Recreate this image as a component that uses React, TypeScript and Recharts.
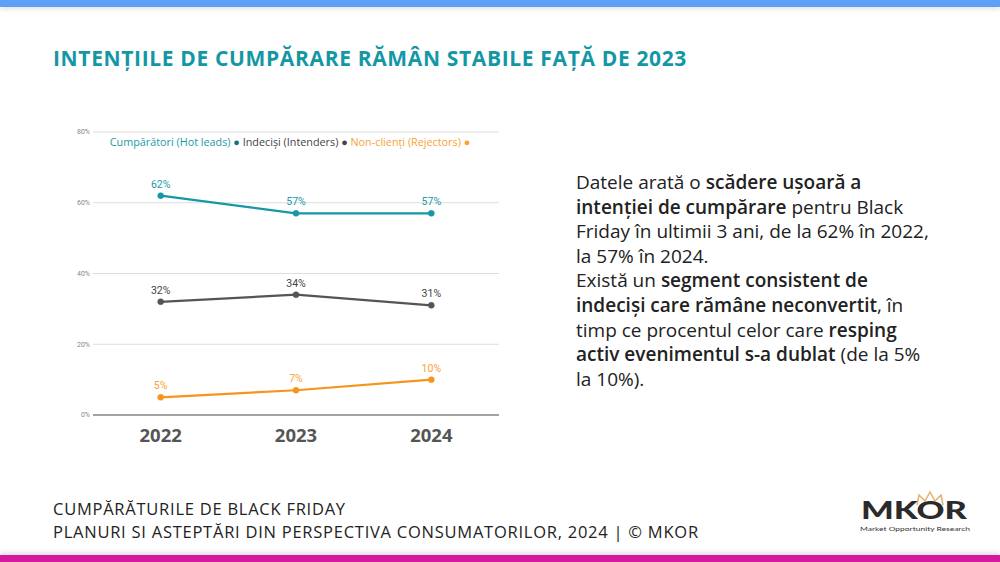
import React from "react";
import {
  LineChart,
  Line,
  XAxis,
  YAxis,
  CartesianGrid,
  Legend,
  LabelList,
} from "recharts";

const years = ["2022", "2023", "2024"];
const hotLeads = [62, 57, 57];
const intenders = [32, 34, 31];
const rejectors = [5, 7, 10];
const yTicks = [0, 20, 40, 60, 80];

const TEAL = "#1597a6";
const GRAY = "#555555";
const ORANGE = "#f7941d";
const SANS = "'Open Sans', sans-serif";

const series = [
  { key: "hot", name: "Cumpărători (Hot leads)", color: TEAL, text: "#1a9aa8" },
  { key: "int", name: "Indeciși (Intenders)", color: GRAY, text: "#444444" },
  { key: "rej", name: "Non-clienți (Rejectors)", color: ORANGE, text: "#f9a234" },
];

const data = years.map((year, i) => ({
  year,
  hot: hotLeads[i],
  int: intenders[i],
  rej: rejectors[i],
}));

function ChartLegend() {
  return (
    <div
      style={{
        fontFamily: SANS,
        fontSize: 10.8,
        textAlign: "center",
        whiteSpace: "nowrap",
      }}
    >
      {series.map((s, i) => (
        <span key={s.key} style={{ color: s.text }}>
          {s.name}
          <span style={{ color: i === 0 ? "#14707a" : s.text }}> ● </span>
        </span>
      ))}
    </div>
  );
}

function TrendChart() {
  return (
    <LineChart
      width={450}
      height={340}
      data={data}
      margin={{ top: 12, right: 11, bottom: 0, left: 0 }}
    >
      <CartesianGrid vertical={false} stroke="#dddddd" />
      <XAxis
        dataKey="year"
        scale="band"
        height={45}
        axisLine={{ stroke: "#8a8a8a", strokeWidth: 1.5 }}
        tickLine={false}
        tickMargin={8}
        tick={{ fontSize: 18.5, fontWeight: 700, fill: "#555555", fontFamily: SANS }}
      />
      <YAxis
        width={33}
        domain={[0, 80]}
        ticks={yTicks}
        axisLine={false}
        tickLine={false}
        tickSize={0}
        tickMargin={3}
        tickFormatter={(v) => `${v}%`}
        tick={{ fontSize: 7, fill: "#888888", fontFamily: "Roboto, sans-serif" }}
      />
      <Legend
        verticalAlign="middle"
        align="center"
        content={() => <ChartLegend />}
        wrapperStyle={{ top: 14, left: 27, width: 406 }}
      />
      {series.map((s) => (
        <Line
          key={s.key}
          dataKey={s.key}
          name={s.name}
          stroke={s.color}
          strokeWidth={2.2}
          dot={{ r: 3, fill: s.color, stroke: s.color, strokeWidth: 0.5 }}
          activeDot={false}
          isAnimationActive={false}
        >
          <LabelList
            dataKey={s.key}
            position="top"
            offset={8}
            formatter={(v: number) => `${v}%`}
            style={{ fontSize: 10.5, fill: s.text, fontFamily: "Roboto, sans-serif" }}
          />
        </Line>
      ))}
    </LineChart>
  );
}

const B = ({ children }: { children: React.ReactNode }) => (
  <span style={{ fontWeight: 600 }}>{children}</span>
);

function Logo() {
  return (
    <svg
      width={122}
      height={50}
      style={{ position: "absolute", left: 855, top: 488 }}
    >
      <polyline
        points="62,17 64,7 70,13 75,4 80,13 86,7 88,17"
        fill="none"
        stroke="#e2b36a"
        strokeWidth={1.5}
      />
      <text
        x={6}
        y={31}
        textLength={106}
        lengthAdjust="spacingAndGlyphs"
        fontFamily="Lato, sans-serif"
        fontWeight={900}
        fontSize={25}
        fill="#2b2b2b"
      >
        MKOR
      </text>
      <text
        x={5}
        y={43}
        textLength={110}
        lengthAdjust="spacingAndGlyphs"
        fontFamily="Lato, sans-serif"
        fontSize={6}
        fill="#333333"
      >
        Market Opportunity Research
      </text>
    </svg>
  );
}

export default function App() {
  return (
    <div
      style={{
        position: "fixed",
        left: 0,
        top: 0,
        width: 1000,
        height: 562,
        background: "#ffffff",
        overflow: "hidden",
        fontFamily: SANS,
      }}
    >
      <div
        style={{
          position: "absolute",
          left: 0,
          top: 0,
          width: 1000,
          height: 7,
          background: "#5f9ff5",
          boxShadow: "0 2px 5px rgba(0,0,0,0.12)",
        }}
      />
      <div
        style={{
          position: "absolute",
          left: 0,
          top: 555,
          width: 1000,
          height: 7,
          background: "#d4199e",
          boxShadow: "0 -2px 5px rgba(0,0,0,0.15)",
        }}
      />
      <div
        style={{
          position: "absolute",
          left: 53,
          top: 44,
          fontWeight: 700,
          fontSize: 21,
          letterSpacing: 0.65,
          color: "#1497a5",
          whiteSpace: "nowrap",
        }}
      >
        INTENȚIILE DE CUMPĂRARE RĂMÂN STABILE FAȚĂ DE 2023
      </div>

      <div style={{ position: "absolute", left: 60, top: 120 }}>
        <TrendChart />
      </div>

      <div
        style={{
          position: "absolute",
          left: 576,
          top: 170,
          fontSize: 19,
          lineHeight: "24.6px",
          color: "#222222",
          whiteSpace: "nowrap",
        }}
      >
        <div>
          Datele arată o <B>scădere ușoară a</B>
        </div>
        <div>
          <B>intenției de cumpărare</B> pentru Black
        </div>
        <div>Friday în ultimii 3 ani, de la 62% în 2022,</div>
        <div>la 57% în 2024.</div>
        <div>
          Există un <B>segment consistent de</B>
        </div>
        <div>
          <B>indeciși care rămâne neconvertit</B>, în
        </div>
        <div>
          timp ce procentul celor care <B>resping</B>
        </div>
        <div>
          <B>activ evenimentul s-a dublat</B> (de la 5%
        </div>
        <div>la 10%).</div>
      </div>

      <div
        style={{
          position: "absolute",
          left: 53,
          top: 498,
          fontSize: 16.5,
          letterSpacing: 0.75,
          lineHeight: "22.5px",
          color: "#222222",
          whiteSpace: "nowrap",
        }}
      >
        <div>CUMPĂRĂTURILE DE BLACK FRIDAY</div>
        <div>PLANURI SI ASTEPTĂRI DIN PERSPECTIVA CONSUMATORILOR, 2024 | © MKOR</div>
      </div>

      <Logo />
    </div>
  );
}
